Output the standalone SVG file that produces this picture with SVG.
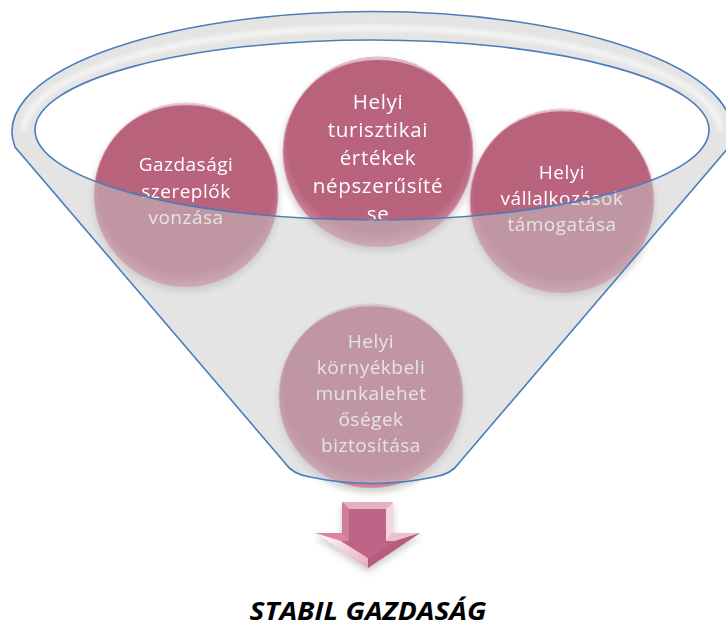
<svg xmlns="http://www.w3.org/2000/svg" width="726" height="628" viewBox="0 0 726 628">
<style>
.ball{fill:url(#ballG);stroke:#D9A0B2;stroke-width:1.2;stroke-opacity:0.8}
.gloss{fill:url(#gloss)}
.t{font-family:"Open Sans","DejaVu Sans",sans-serif;font-size:19px;letter-spacing:0.5px;fill:#FFFFFF;text-anchor:middle}
.tb{font-size:20.5px;letter-spacing:0.7px}
.blue{fill:none;stroke:#4A7EBB;stroke-width:1.6}
.title{font-family:"Open Sans","DejaVu Sans",sans-serif;font-size:25px;font-weight:bold;font-style:italic;fill:#000;text-anchor:middle}
</style>
<defs>
<filter id="sh" x="-20%" y="-20%" width="140%" height="150%"><feDropShadow dx="0" dy="4" stdDeviation="3.5" flood-color="#000" flood-opacity="0.2"/></filter>
<filter id="blur" x="-10%" y="-10%" width="120%" height="120%"><feGaussianBlur stdDeviation="2"/></filter>
<radialGradient id="ballG" cx="0.5" cy="0.45" r="0.55">
<stop offset="0" stop-color="#B9637E"/><stop offset="0.86" stop-color="#B8627C"/><stop offset="1" stop-color="#CC8AA0"/>
</radialGradient>
<linearGradient id="gloss" x1="0" y1="0" x2="0" y2="1">
<stop offset="0" stop-color="#FFFFFF" stop-opacity="0.6"/><stop offset="1" stop-color="#FFFFFF" stop-opacity="0"/>
</linearGradient>
<linearGradient id="headL" x1="0" y1="0" x2="1" y2="1">
<stop offset="0" stop-color="#FFFFFF"/><stop offset="1" stop-color="#E7A9BE"/>
</linearGradient>
</defs>
<rect width="726" height="628" fill="#FFFFFF"/>

<!-- circles -->
<g id="n1" filter="url(#sh)">
<circle class="ball" cx="186" cy="195" r="92"/>
<path class="gloss" d="M112 140 A92 92 0 0 1 260 140 A88 76 0 0 0 112 140 Z"/>
<text class="t" x="186" y="171">Gazdasági</text>
<text class="t" x="186" y="198">szereplők</text>
<text class="t" x="186" y="224">vonzása</text>
</g>
<g id="n2" filter="url(#sh)">
<circle class="ball" cx="378" cy="152" r="95"/>
<path class="gloss" d="M302 95 A95 95 0 0 1 454 95 A91 78 0 0 0 302 95 Z"/>
<text class="t tb" x="378" y="109">Helyi</text>
<text class="t tb" x="378" y="137">turisztikai</text>
<text class="t tb" x="378" y="165">értékek</text>
<text class="t tb" x="378" y="193">népszerűsíté</text>
<text class="t tb" x="378" y="221">se</text>
</g>
<g id="n3" filter="url(#sh)">
<circle class="ball" cx="562" cy="201" r="92"/>
<path class="gloss" d="M488 146 A92 92 0 0 1 636 146 A88 76 0 0 0 488 146 Z"/>
<text class="t" x="562" y="179">Helyi</text>
<text class="t" x="562" y="205">vállalkozások</text>
<text class="t" x="562" y="231">támogatása</text>
</g>
<g id="n4" filter="url(#sh)">
<circle class="ball" cx="371" cy="396" r="92"/>
<path class="gloss" d="M297 341 A92 92 0 0 1 445 341 A88 76 0 0 0 297 341 Z"/>
<text class="t" x="371" y="348">Helyi</text>
<text class="t" x="371" y="374">környékbeli</text>
<text class="t" x="371" y="400">munkalehet</text>
<text class="t" x="371" y="426">őségek</text>
<text class="t" x="371" y="452">biztosítása</text>
</g>

<!-- funnel (front overlay + outlines) -->
<g id="funnel">
<path d="M15 147 A360 120 0 1 1 729 147 L459 463 Q452 474 434 477 Q372 490 310 477 Q292 474 285 463 Z M35 130 A337 90 0 1 0 709 130 A337 90 0 1 0 35 130 Z" fill="#C9C9C9" fill-opacity="0.5" fill-rule="evenodd"/>
<path d="M24 131 A348 103 0 0 1 720 131" fill="none" stroke="#FFFFFF" stroke-width="5" stroke-opacity="0.7" filter="url(#blur)"/>
<path class="blue" d="M15 147 A360 120 0 1 1 729 147 L459 463 Q452 474 434 477 Q372 490 310 477 Q292 474 285 463 Z"/>
<ellipse class="blue" cx="372" cy="130" rx="337" ry="90"/>
</g>

<!-- arrow -->
<g id="arrow" filter="url(#sh)">
<polygon points="342,502 393,502 393,533 420,533 368,568 315,533 342,533" fill="#D98DA8"/>
<polygon points="342,502 393,502 386,509 349,509" fill="#E7AFC3"/>
<polygon points="342,502 349,509 349,541 342,533" fill="#CF7D99"/>
<polygon points="393,502 393,533 386,541 386,509" fill="#F3D6E0"/>
<polygon points="315,533 342,533 349,541 341,541" fill="#D9879F"/>
<polygon points="420,533 393,533 386,541 395,541" fill="#EBC0CF"/>
<polygon points="315,533 341,541 368,558 368,568" fill="url(#headL)"/>
<polygon points="420,533 395,541 368,558 368,568" fill="#B65C7D"/>
<polygon points="349,509 386,509 386,541 395,541 368,558 341,541 349,541" fill="#BE6587"/>
</g>

<text id="label" class="title" x="368" y="620" textLength="237" lengthAdjust="spacingAndGlyphs">STABIL GAZDASÁG</text>
</svg>
